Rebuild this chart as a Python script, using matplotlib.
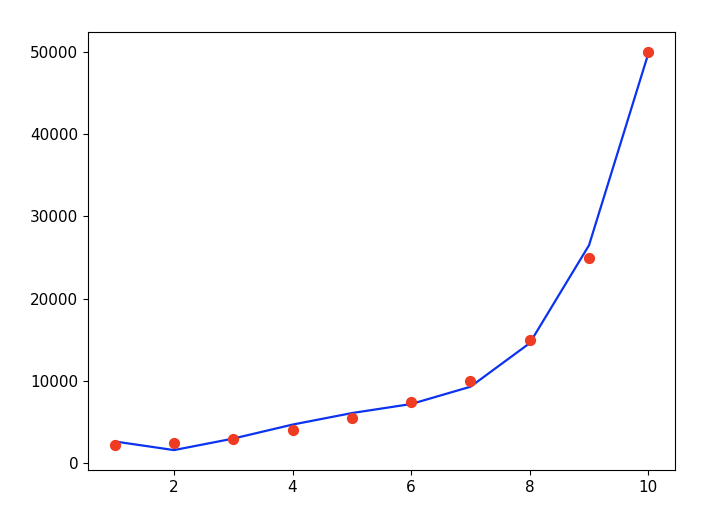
import matplotlib
matplotlib.use("Agg")
import matplotlib.pyplot as plt

# position levels and salaries (scaled)
levels = [1, 2, 3, 4, 5, 6, 7, 8, 9, 10]
salaries = [2250, 2500, 3000, 4000, 5500, 7500, 10000, 15000, 25000, 50000]
# polynomial regression predictions
predicted = [2650, 1600, 3000, 4700, 6100, 7200, 9300, 14600, 26500, 49800]

fig = plt.figure(figsize=(7.2, 5.22), dpi=100)
ax = fig.add_axes([88 / 720, (522 - 470) / 522, (675 - 88) / 720, (470 - 32) / 522])
ax.scatter(levels, salaries, color='#ee3b22', s=50, zorder=3)
ax.plot(levels, predicted, color='#0b33f0', linewidth=1.6)
ax.tick_params(labelsize=11)
fig.savefig("out.png")
